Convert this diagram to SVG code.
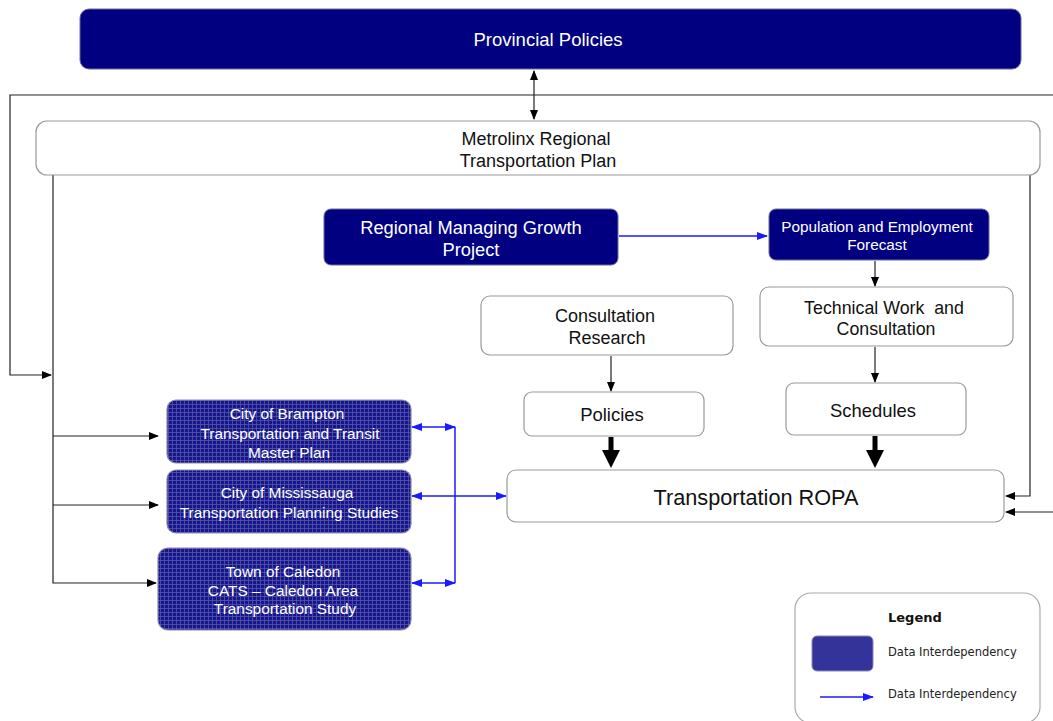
<svg xmlns="http://www.w3.org/2000/svg" width="1053" height="721" viewBox="0 0 1053 721">
<defs>
<style>
.navy{fill:#000080;stroke:#6a6a9a;stroke-width:1}
.hatch{fill:url(#grid);stroke:#8a8aaa;stroke-width:1.2}
.white{fill:#fff;stroke:#9a9a9a;stroke-width:1.2}
.t{font-family:"Liberation Sans",Arial,sans-serif;text-anchor:middle}
.tw{fill:#fff}
.tb{fill:#111}
.ln{fill:none;stroke:#222;stroke-width:1.2}
.bl{fill:none;stroke:#1a1aff;stroke-width:1.5}
.thick{fill:none;stroke:#000;stroke-width:5}
</style>
<pattern id="grid" width="4" height="4" patternUnits="userSpaceOnUse">
<rect width="4" height="4" fill="#16168a"/>
<path d="M0 0.5H4M0.5 0V4" stroke="#5656ac" stroke-width="0.8"/>
</pattern>
<marker id="ah" markerWidth="10" markerHeight="8" refX="9" refY="4" orient="auto" markerUnits="userSpaceOnUse">
<path d="M0 0L10 4L0 8Z" fill="#000"/>
</marker>
<marker id="ahs" markerWidth="10" markerHeight="8" refX="1" refY="4" orient="auto" markerUnits="userSpaceOnUse">
<path d="M10 0L0 4L10 8Z" fill="#000"/>
</marker>
<marker id="bh" markerWidth="11" markerHeight="8" refX="10" refY="4" orient="auto" markerUnits="userSpaceOnUse">
<path d="M0 0L11 4L0 8Z" fill="#1a1aff"/>
</marker>
<marker id="bhs" markerWidth="11" markerHeight="8" refX="1" refY="4" orient="auto" markerUnits="userSpaceOnUse">
<path d="M11 0L0 4L11 8Z" fill="#1a1aff"/>
</marker>
<marker id="th" markerWidth="20" markerHeight="18" refX="2" refY="9" orient="auto" markerUnits="userSpaceOnUse">
<path d="M0 0L18 9L0 18Z" fill="#000"/>
</marker>
</defs>
<rect width="1053" height="721" fill="#fff"/>

<g id="connectors">
<line class="ln" x1="534" y1="71" x2="534" y2="119" marker-start="url(#ahs)" marker-end="url(#ah)"/>
<path class="ln" d="M1053 95H10V375H51" marker-end="url(#ah)"/>
<path class="ln" d="M53 175V583H156" marker-end="url(#ah)"/>
<path class="ln" d="M53 436H158" marker-end="url(#ah)"/>
<path class="ln" d="M53 505H158" marker-end="url(#ah)"/>
<path class="ln" d="M1030 175V496H1006" marker-end="url(#ah)"/>
<path class="ln" d="M1053 512H1006" marker-end="url(#ah)"/>
<line class="bl" x1="619" y1="236" x2="767" y2="236" marker-end="url(#bh)"/>
<line class="ln" x1="875" y1="261" x2="875" y2="286" marker-end="url(#ah)"/>
<line class="ln" x1="875" y1="347" x2="875" y2="382" marker-end="url(#ah)"/>
<line class="ln" x1="611" y1="356" x2="611" y2="391" marker-end="url(#ah)"/>
<line class="thick" x1="611" y1="437" x2="611" y2="452" marker-end="url(#th)"/>
<line class="thick" x1="875" y1="436" x2="875" y2="452" marker-end="url(#th)"/>
<line class="bl" x1="412" y1="427" x2="455" y2="427" marker-start="url(#bhs)" marker-end="url(#bh)"/>
<line class="bl" x1="412" y1="583" x2="455" y2="583" marker-start="url(#bhs)" marker-end="url(#bh)"/>
<line class="bl" x1="455" y1="427" x2="455" y2="583"/>
<line class="bl" x1="412" y1="496" x2="506" y2="496" marker-start="url(#bhs)" marker-end="url(#bh)"/>
</g>

<g id="provincial">
<rect class="navy" x="80" y="9" width="941" height="60" rx="9"/>
<text class="t tw" x="548" y="46" font-size="18.5">Provincial Policies</text>
</g>
<g id="metrolinx">
<rect class="white" x="36" y="121" width="1004" height="54" rx="11"/>
<text class="t tb" x="536" y="145" font-size="18">Metrolinx Regional</text>
<text class="t tb" x="538" y="167" font-size="18">Transportation Plan</text>
</g>
<g id="rmgp">
<rect class="navy" x="324" y="209" width="294" height="56" rx="7"/>
<text class="t tw" x="471" y="234" font-size="18.3">Regional Managing Growth</text>
<text class="t tw" x="471" y="256" font-size="18.3">Project</text>
</g>
<g id="popemp">
<rect class="navy" x="769" y="209" width="220" height="51" rx="7"/>
<text class="t tw" x="877" y="232" font-size="15.3">Population and Employment</text>
<text class="t tw" x="877" y="250" font-size="15.3">Forecast</text>
</g>
<g id="technical">
<rect class="white" x="760" y="287" width="253" height="59" rx="9"/>
<text class="t tb" x="884" y="314" font-size="17.8">Technical Work&#160; and</text>
<text class="t tb" x="886" y="335" font-size="17.8">Consultation</text>
</g>
<g id="consultation">
<rect class="white" x="481" y="296" width="252" height="59" rx="9"/>
<text class="t tb" x="605" y="322" font-size="18">Consultation</text>
<text class="t tb" x="607" y="344" font-size="18">Research</text>
</g>
<g id="policies">
<rect class="white" x="524" y="392" width="180" height="44" rx="8"/>
<text class="t tb" x="612" y="421" font-size="18.5">Policies</text>
</g>
<g id="schedules">
<rect class="white" x="786" y="383" width="180" height="52" rx="8"/>
<text class="t tb" x="873" y="417" font-size="18.4">Schedules</text>
</g>
<g id="ropa">
<rect class="white" x="507" y="470" width="497" height="52" rx="9"/>
<text class="t tb" x="756" y="505" font-size="21.7">Transportation ROPA</text>
</g>
<g id="brampton">
<rect class="hatch" x="167" y="400" width="244" height="63" rx="9"/>
<text class="t tw" x="287" y="419" font-size="15.4">City of Brampton</text>
<text class="t tw" x="290" y="439" font-size="15.4">Transportation and Transit</text>
<text class="t tw" x="289" y="458" font-size="15.4">Master Plan</text>
</g>
<g id="mississauga">
<rect class="hatch" x="167" y="470" width="244" height="63" rx="9"/>
<text class="t tw" x="287" y="498" font-size="15.4">City of Mississauga</text>
<text class="t tw" x="289" y="518" font-size="15.4">Transportation Planning Studies</text>
</g>
<g id="caledon">
<rect class="hatch" x="158" y="548" width="253" height="82" rx="10"/>
<text class="t tw" x="283" y="577" font-size="15.4">Town of Caledon</text>
<text class="t tw" x="283" y="596" font-size="15.4">CATS – Caledon Area</text>
<text class="t tw" x="285" y="614" font-size="15.4">Transportation Study</text>
</g>
<g id="legend">
<rect x="795" y="593" width="245" height="130" rx="16" fill="#fff" stroke="#aaa" stroke-width="1.2"/>
<text x="888" y="622" font-family="'DejaVu Sans',Verdana,sans-serif" font-size="13" font-weight="bold" fill="#111">Legend</text>
<rect x="812" y="636" width="61" height="35" rx="5" fill="#333399" stroke="#8888bb" stroke-width="1"/>
<text x="888" y="656" font-family="'DejaVu Sans',Verdana,sans-serif" font-size="11.5" fill="#222">Data Interdependency</text>
<line class="bl" x1="820" y1="697" x2="873" y2="697" marker-end="url(#bh)"/>
<text x="888" y="698" font-family="'DejaVu Sans',Verdana,sans-serif" font-size="11.5" fill="#222">Data Interdependency</text>
</g>
</svg>
